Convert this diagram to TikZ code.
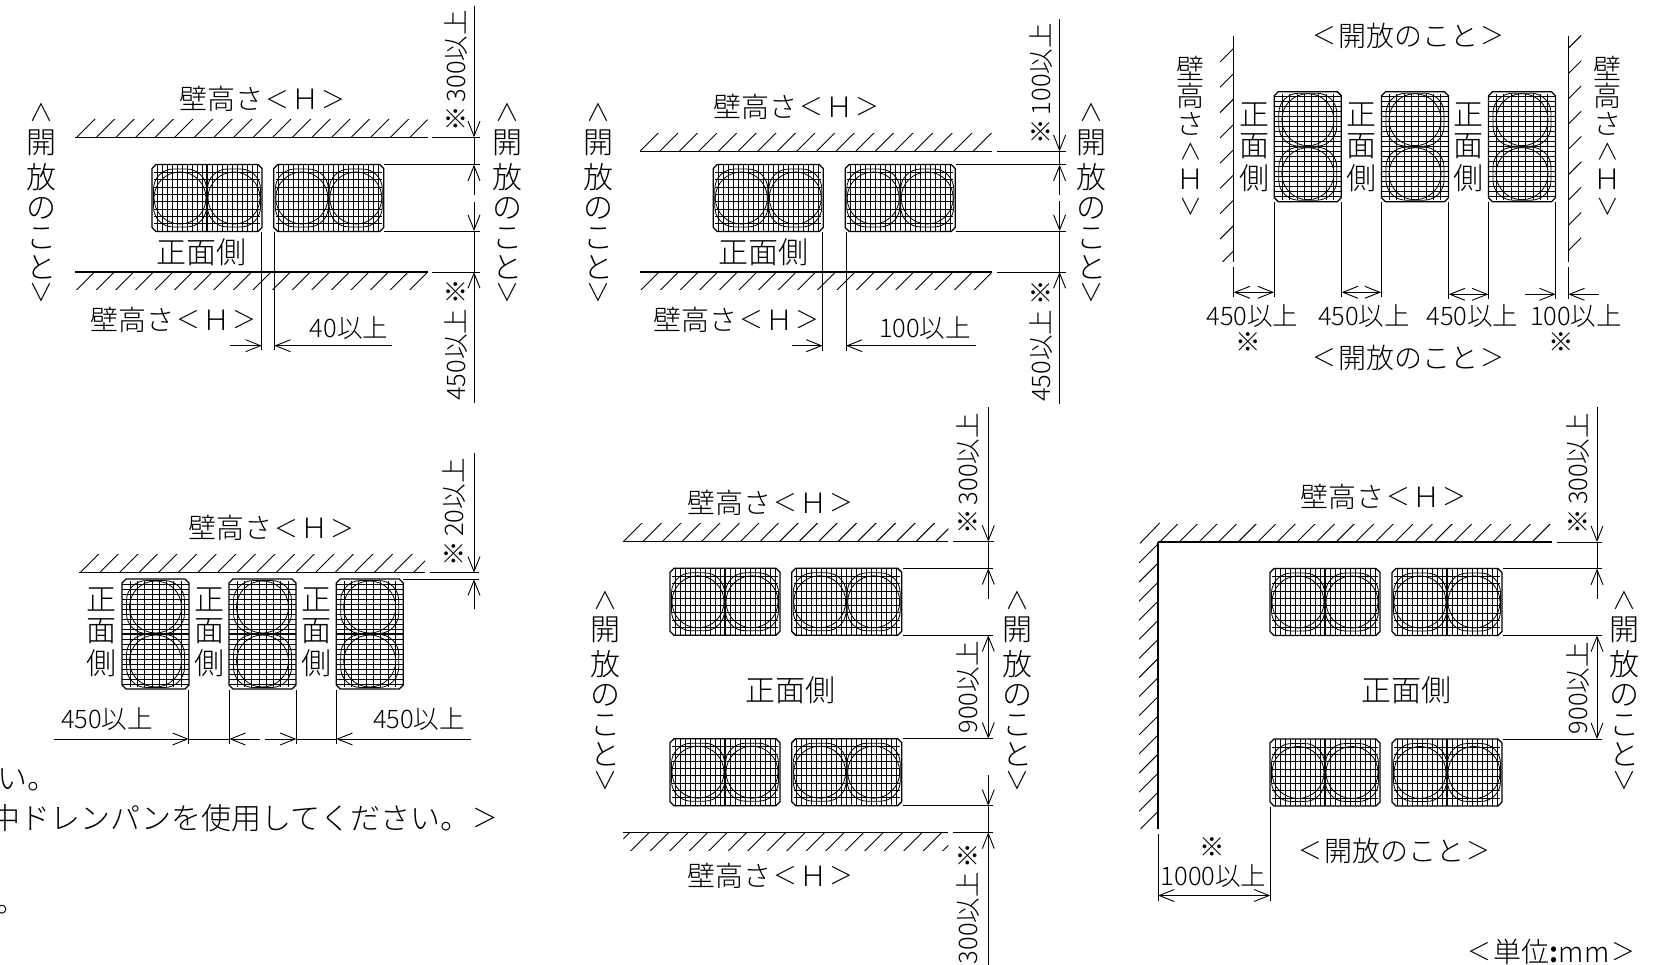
\documentclass[tikz,border=0pt]{standalone}
\usepackage{fontspec}
\usepackage{graphicx}
\usetikzlibrary{arrows.meta}
\setmainfont{Noto Sans CJK JP}[UprightFont=* Light,BoldFont=* Bold]
\newcount\nid
\newcommand{\ltc}{\makebox[1em]{\raisebox{.06em}{\scalebox{.85}{＜}}}}
\newcommand{\gtc}{\makebox[1em]{\raisebox{.06em}{\scalebox{.85}{＞}}}}
\newcommand{\upa}{\rotatebox[origin=c]{-90}{\scalebox{.8}{＜}}}
\newcommand{\dna}{\rotatebox[origin=c]{-90}{\scalebox{.8}{＞}}}
\newcommand{\wh}{壁高さ\ltc Ｈ\gtc}
\newcommand{\kh}{\ltc 開放のこと\gtc}
\tikzset{
  lab/.style={inner sep=0pt,outer sep=0pt,font=\fontsize{28}{30}\selectfont},
  biglab/.style={inner sep=0pt,outer sep=0pt,font=\fontsize{30}{32}\selectfont},
  dimlab/.style={inner sep=0pt,outer sep=0pt,font=\fontsize{25.5}{27}\selectfont},
  wallline/.style={line width=1.5pt},
  hatchline/.style={line width=0.9pt},
  unitline/.style={line width=1.3pt,line join=miter},
  gridline/.style={line width=0.75pt},
  fanline/.style={line width=0.8pt},
  dimplain/.style={line width=0.9pt},
  dimtip/.style={line width=0.9pt,-{Straight Barb[length=15pt,width=12pt,line width=0.9pt]}},
  dimboth/.style={line width=0.9pt,{Straight Barb[length=15pt,width=12pt,line width=0.9pt]}-{Straight Barb[length=15pt,width=12pt,line width=0.9pt]}}
}
% text helpers
\newcommand{\lab}[2]{\global\advance\nid 1 \node[lab] (t\the\nid) at (#1) {#2};}
\newcommand{\blab}[2]{\global\advance\nid 1 \node[biglab] (t\the\nid) at (#1) {#2};}
\newcommand{\dlab}[2]{\global\advance\nid 1 \node[dimlab] (t\the\nid) at (#1) {#2};}
\newcommand{\rlab}[2]{\global\advance\nid 1 \node[dimlab,rotate=90] (t\the\nid) at (#1) {#2};}
\newcommand{\vstk}[4]{\foreach \ch [count=\ii from 0] in {#4}{\global\advance\nid 1 \node[biglab] (t\the\nid) at ({#1},{#2+\ii*#3}) {\ch};}}
\newcommand{\wstk}[2]{\foreach \ch [count=\ii from 0] in {壁,高,さ,\upa,Ｈ,\dna}{\global\advance\nid 1 \node[lab] (t\the\nid) at ({#1},{#2+\ii*27.7}) {\ch};}}
\newcommand{\sidestk}[2]{\foreach \ch/\off in {\upa/0,開/30,放/64,の/95,こ/125,と/154,\dna/180}{\global\advance\nid 1 \node[biglab] (t\the\nid) at ({#1},{#2+\off}) {\ch};}}
\newcommand{\rs}{※\hspace{4pt}}
% connectors
\newcommand{\conn}[3]{\global\advance\nid 1 \coordinate (a\the\nid) at (#2); \coordinate (b\the\nid) at (#3); \draw[#1] (a\the\nid) -- (b\the\nid);}
% walls
\newcommand{\hwall}[6]{% x1,x2,y,s,start,spacing
  \conn{wallline}{#1,#3}{#2,#3}
  \begin{scope}
    \clip (#1,#3) rectangle (#2,{#3+#4*18});
    \pgfmathsetmacro{\hb}{#5+#6}\pgfmathsetmacro{\he}{#2+20}
    \foreach \hx in {#5,\hb,...,\he}{\draw[hatchline] (\hx,#3) -- ++({-#4*19},{#4*19});}
  \end{scope}}
\newcommand{\vwall}[7]{% x,y1,y2,s,start,spacing,d
  \conn{wallline}{#1,#2}{#1,#3}
  \begin{scope}
    \clip (#1,#2) rectangle ({#1+#4*#7},#3);
    \pgfmathsetmacro{\hb}{#5+#6}\pgfmathsetmacro{\he}{#3+#7}
    \foreach \hy in {#5,\hb,...,\he}{\draw[hatchline] (#1,\hy) -- ++({#4*#7},{-#4*#7});}
  \end{scope}}
% outdoor unit
\newcommand{\fanunit}[3]{%
  \begin{scope}[shift={(#1,#2)},rotate=#3]
    \foreach \gx in {5,10,...,50}
      {\draw[gridline] (\gx,-33.5) -- (\gx,33.5);\draw[gridline] (-\gx,-33.5) -- (-\gx,33.5);}
    \foreach \gy in {-25.5,-18.2,-10.9,-3.6,3.6,10.9,18.2,25.5}
      {\draw[gridline] (-53,\gy) -- (53,\gy);}
    \draw[line width=1.1pt] (0,-33.5) -- (0,33.5);
    \foreach \cx in {-27,27}{
      \draw[fanline] (\cx,0) circle[radius=26pt];
      \draw[fanline,rounded corners=20pt] ({\cx-26.5},-29) rectangle ({\cx+26.5},29);
    }
    \draw[unitline] (-51,-33.5) -- (51,-33.5) -- (55,-29.5) -- (55,29.5) -- (51,33.5) -- (-51,33.5) -- (-55,29.5) -- (-55,-29.5) -- cycle;
  \end{scope}}
\begin{document}
\begin{tikzpicture}[x=1pt,y=-1pt]
\useasboundingbox (0,0) rectangle (1659,965);
% ---------- panel 1
\lab{263,99.3}{\wh}
\hwall{75}{427.5}{137.3}{-1}{76.8}{19.6}
\hwall{75}{427.5}{272}{1}{94.6}{19.6}
\fanunit{207}{198}{0}\fanunit{328.8}{198}{0}
\blab{201,252.7}{正面側}
\lab{174,320}{\wh}
\sidestk{41}{113}
\sidestk{507}{113}
\conn{dimplain}{432,137.3}{479.6,137.3}
\conn{dimplain}{384,164.7}{479.6,164.7}
\conn{dimplain}{384,231}{479.6,231}
\conn{dimplain}{432,272}{479.6,272}
\conn{dimtip}{474,6}{474,137.3}
\conn{dimplain}{474,137.3}{474,164.7}
\conn{dimtip}{474,195}{474,164.7}
\conn{dimtip}{474,202}{474,231}
\conn{dimplain}{474,231}{474,272}
\conn{dimtip}{474,403}{474,272}
\rlab{456,71}{\rs 300以上}
\rlab{456,340}{450以上\hspace{4pt}※}
\conn{dimplain}{261.8,232}{261.8,350}
\conn{dimplain}{274.3,232}{274.3,350}
\conn{dimtip}{230,345.7}{261.8,345.7}
\conn{dimtip}{392,345.7}{274.3,345.7}
\dlab{349,328}{40以上}
% ---------- panel 2
\lab{797,107}{\wh}
\hwall{640}{992}{151.3}{-1}{640}{19.6}
\hwall{640}{992}{272}{1}{659}{19.6}
\fanunit{768.3}{198}{0}\fanunit{900.2}{198}{0}
\blab{763,252}{正面側}
\lab{737,320}{\wh}
\sidestk{598.6}{113}
\sidestk{1091.4}{113}
\conn{dimplain}{997,151.3}{1066,151.3}
\conn{dimplain}{955.5,164.7}{1066,164.7}
\conn{dimplain}{955.5,231}{1066,231}
\conn{dimplain}{997,272}{1066,272}
\conn{dimtip}{1059.6,19}{1059.6,151.3}
\conn{dimplain}{1059.6,151.3}{1059.6,164.7}
\conn{dimtip}{1059.6,195}{1059.6,164.7}
\conn{dimtip}{1059.6,201}{1059.6,231}
\conn{dimplain}{1059.6,231}{1059.6,272}
\conn{dimtip}{1059.6,404}{1059.6,272}
\rlab{1041,84}{\rs 100以上}
\rlab{1041,341}{450以上\hspace{4pt}※}
\conn{dimplain}{822.5,232}{822.5,351}
\conn{dimplain}{846,232}{846,351}
\conn{dimtip}{792,345.7}{822.5,345.7}
\conn{dimtip}{976.4,345.7}{846,345.7}
\dlab{925,328}{100以上}
% ---------- panel 3
\lab{1408,36}{\kh}
\lab{1408,358}{\kh}
\vwall{1233.7}{36}{261.7}{-1}{48.3}{25.3}{13.7}
\vwall{1568.3}{36}{261.7}{1}{48.3}{25.3}{13}
\fanunit{1307.8}{146.7}{90}\fanunit{1415}{146.7}{90}\fanunit{1522}{146.7}{90}
\wstk{1190.7}{68.3}
\wstk{1607.7}{68.3}
\foreach \vx in {1254,1361,1468}{\vstk{\vx}{115}{31.5}{正,面,側}}
\conn{dimplain}{1233.7,266.7}{1233.7,297}
\conn{dimplain}{1274,202.5}{1274,297}
\conn{dimplain}{1341.7,202.5}{1341.7,297}
\conn{dimplain}{1381,202.5}{1381,297}
\conn{dimplain}{1448.7,202.5}{1448.7,299}
\conn{dimplain}{1488.3,202.5}{1488.3,299}
\conn{dimplain}{1555.7,202.5}{1555.7,299}
\conn{dimplain}{1568.3,266.7}{1568.3,299}
\conn{dimboth}{1233.7,292.3}{1274,292.3}
\conn{dimboth}{1341.7,292.3}{1381,292.3}
\conn{dimboth}{1448.7,294.3}{1488.3,294.3}
\conn{dimtip}{1525,294.3}{1555.7,294.3}
\conn{dimtip}{1599,294.3}{1568.3,294.3}
\dlab{1252.5,316}{450以上}
\dlab{1364,316}{450以上}
\dlab{1472.5,316}{450以上}
\dlab{1576,316}{100以上}
\dlab{1248,342.3}{※}
\dlab{1561,342.3}{※}
% ---------- panel 4
\lab{272,528.3}{\wh}
\hwall{79}{425}{572.7}{-1}{80}{19.6}
\fanunit{155.5}{634}{90}\fanunit{262.5}{634}{90}\fanunit{369.7}{634}{90}
\foreach \vx in {101.7,209,316}{\vstk{\vx}{600}{31.4}{正,面,側}}
\conn{dimplain}{430,572.7}{479,572.7}
\conn{dimplain}{403,579.3}{479,579.3}
\conn{dimtip}{474,452.7}{474,572.7}
\conn{dimtip}{474,609.3}{474,579.3}
\rlab{454,512.3}{\rs 20以上}
\conn{dimplain}{188.7,690}{188.7,744}
\conn{dimplain}{229.3,690}{229.3,744}
\conn{dimplain}{296.3,690}{296.3,744}
\conn{dimplain}{336.3,690}{336.3,744}
\conn{dimtip}{54,739}{188.7,739}
\conn{dimplain}{188.7,739}{229.3,739}
\conn{dimtip}{260,739}{229.3,739}
\conn{dimtip}{265,739}{296.3,739}
\conn{dimplain}{296.3,739}{336.3,739}
\conn{dimtip}{471,739}{336.3,739}
\dlab{107,719.3}{450以上}
\dlab{419,719.3}{450以上}
\global\advance\nid 1 \node[biglab,anchor=east] (t\the\nid) at (58,780) {い。};
\global\advance\nid 1 \node[biglab,anchor=east] (t\the\nid) at (500,818) {中ドレンパンを使用してください。\gtc};
\global\advance\nid 1 \node[biglab,anchor=east] (t\the\nid) at (27,910) {。};
% ---------- panel 5
\lab{771.3,502.7}{\wh}
\hwall{623.3}{948.3}{541.6}{-1}{623.5}{19.5}
\hwall{623.3}{948.3}{832.4}{1}{629.8}{19.5}
\fanunit{725}{601.8}{0}\fanunit{846.7}{601.8}{0}
\fanunit{725}{772.2}{0}\fanunit{846.7}{772.2}{0}
\blab{790,690}{正面側}
\lab{771.3,875.7}{\wh}
\sidestk{605}{600}
\sidestk{1017.7}{600}
\conn{dimplain}{952.7,541.6}{994,541.6}
\conn{dimplain}{902.5,568.3}{993.3,568.3}
\conn{dimplain}{902.5,635.3}{993.3,635.3}
\conn{dimplain}{902.5,738.7}{993.3,738.7}
\conn{dimplain}{902.5,805.8}{993.3,805.8}
\conn{dimplain}{952.7,832.4}{993.3,832.4}
\conn{dimtip}{988.3,407}{988.3,541.6}
\conn{dimplain}{988.3,541.6}{988.3,568.3}
\conn{dimtip}{988.3,599}{988.3,568.3}
\conn{dimboth}{988.3,635.3}{988.3,738.7}
\conn{dimtip}{988.3,774.8}{988.3,805.8}
\conn{dimplain}{988.3,805.8}{988.3,832.4}
\conn{dimtip}{988.3,965}{988.3,832.4}
\rlab{968.3,474}{\rs 300以上}
\rlab{968.3,687.4}{900以上}
\rlab{968.3,903.5}{300以上\hspace{4pt}※}
% ---------- panel 6
\lab{1384,496.6}{\wh}
\hwall{1158}{1551.6}{542}{-1}{1159.7}{19.6}
\vwall{1158}{542}{828.8}{-1}{544}{19.1}{19}
\conn{hatchline}{1140,543.4}{1159.7,523}
\fanunit{1325}{602}{0}\fanunit{1447}{602}{0}
\fanunit{1325}{772.5}{0}\fanunit{1447}{772.5}{0}
\blab{1406.6,690}{正面側}
\lab{1394,850.5}{\kh}
\sidestk{1624}{600}
\conn{dimplain}{1556.6,542}{1602,542}
\conn{dimplain}{1503,568.6}{1602,568.6}
\conn{dimplain}{1503,635.5}{1602,635.5}
\conn{dimplain}{1503,739}{1602,739}
\conn{dimtip}{1597,407}{1597,542}
\conn{dimplain}{1597,542}{1597,568.6}
\conn{dimtip}{1597,599}{1597,568.6}
\conn{dimboth}{1597,635.5}{1597,739}
\rlab{1578,473.7}{\rs 300以上}
\rlab{1578,688.3}{900以上}
\conn{dimplain}{1158,834}{1158,901}
\conn{dimplain}{1270.3,807}{1270.3,901}
\conn{dimboth}{1158,895.5}{1270.3,895.5}
\dlab{1212,847}{※}
\dlab{1213.6,876.4}{1000以上}
\lab{1551.6,952}{\ltc 単位{\bfseries :}mm\gtc}
\end{tikzpicture}
\end{document}
